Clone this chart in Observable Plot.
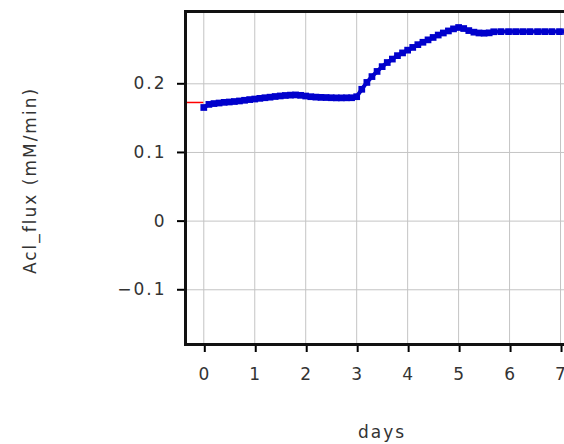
<!DOCTYPE html>
<html>
<head>
<meta charset="utf-8">
<script src="https://cdn.jsdelivr.net/npm/d3@7"></script>
<script src="https://cdn.jsdelivr.net/npm/@observablehq/plot@0.6"></script>
<style>
  html, body { margin: 0; padding: 0; background: #fff; }
  #chart svg { display: block; }
</style>
</head>
<body>
<div id="chart"></div>
<script>
// ---- data ----
const days = [
  0, 0.1, 0.2, 0.3, 0.4, 0.5, 0.6, 0.7, 0.8, 0.9,
  1.0, 1.1, 1.2, 1.3, 1.4, 1.5, 1.6, 1.7, 1.8, 1.9,
  2.0, 2.1, 2.2, 2.3, 2.4, 2.5, 2.6, 2.7, 2.8, 2.9,
  3.0, 3.1, 3.2, 3.3, 3.4, 3.5, 3.6, 3.7, 3.8, 3.9,
  4.0, 4.1, 4.2, 4.3, 4.4, 4.5, 4.6, 4.7, 4.8, 4.9,
  5.0, 5.1, 5.2, 5.3, 5.4, 5.5, 5.6,
  5.69, 5.83, 5.98, 6.12, 6.26, 6.40, 6.55, 6.69, 6.83, 6.98, 7.12
];
const aclFlux = [
  0.1655, 0.1700, 0.1712, 0.1720, 0.1730, 0.1735, 0.1742, 0.1750, 0.1760, 0.1770,
  0.1778, 0.1788, 0.1797, 0.1805, 0.1815, 0.1823, 0.1830, 0.1835, 0.1838, 0.1832,
  0.1822, 0.1812, 0.1806, 0.1802, 0.1800, 0.1797, 0.1795, 0.1795, 0.1796, 0.1797,
  0.1812, 0.1920, 0.2020, 0.2105, 0.2180, 0.2250, 0.2310, 0.2360, 0.2410, 0.2450,
  0.2490, 0.2530, 0.2570, 0.2605, 0.2640, 0.2675, 0.2710, 0.2740, 0.2770, 0.2800,
  0.2820, 0.2805, 0.2775, 0.2752, 0.2740, 0.2737, 0.2742,
  0.2758, 0.2760, 0.2760, 0.2760, 0.2760, 0.2760, 0.2760, 0.2760, 0.2760, 0.2760, 0.2760
];
const initialValue = [0.1728];
const xTicks = [0, 1, 2, 3, 4, 5, 6, 7];
const yTicks = [-0.1, 0, 0.1, 0.2];
const xLabel = "days";
const yLabel = "Acl_flux (mM/min)";

// ---- chart ----
const xDomain = [-0.359, 7.078];
const yDomain = [-0.1797, 0.3053];
const data = days.map((d, i) => ({day: d, flux: aclFlux[i]}));
const blue = "#0000cc";
const textColor = "#333";
const tickFont = {fontSize: 17, fill: textColor};
const yFormat = (d) => d === 0 ? "0" : d3.format(".1f")(d);

const chart = Plot.plot({
  width: 564,
  height: 444,
  marginLeft: 185,
  marginRight: 0,
  marginTop: 11,
  marginBottom: 100,
  style: {fontFamily: "'DejaVu Sans', sans-serif", fontSize: "17px", letterSpacing: "2px", background: "#fff", color: "#000"},
  x: {domain: xDomain, label: null},
  y: {domain: yDomain, label: null},
  marks: [
    Plot.gridX(xTicks, {stroke: "#c4c4c4", strokeOpacity: 1, strokeWidth: 1}),
    Plot.gridY(yTicks, {stroke: "#c4c4c4", strokeOpacity: 1, strokeWidth: 1}),
    Plot.ruleY(initialValue, {x1: xDomain[0], x2: 0, stroke: "#ff0000", strokeWidth: 1.5}),
    Plot.line(data, {x: "day", y: "flux", stroke: blue, strokeWidth: 4}),
    Plot.dot(data, {x: "day", y: "flux", symbol: "square", r: 3.8, fill: blue, stroke: "none"}),
    Plot.axisX(xTicks, {tickSize: 8, tickPadding: 15, strokeWidth: 2, stroke: "#000", ...tickFont, dx: 1, label: null}),
    Plot.axisY(yTicks, {tickSize: 8, tickPadding: 11, strokeWidth: 2, stroke: "#000", ...tickFont, tickFormat: yFormat, label: null}),
    Plot.frame({anchor: "left", stroke: "#111", strokeWidth: 3}),
    Plot.frame({anchor: "top", stroke: "#111", strokeWidth: 3}),
    Plot.frame({anchor: "bottom", stroke: "#111", strokeWidth: 3}),
    Plot.text([xLabel], {frameAnchor: "bottom", textAnchor: "middle", dx: 7, dy: 93, fontSize: 17, fill: textColor}),
    Plot.text([yLabel], {frameAnchor: "left", textAnchor: "middle", rotate: -90, dx: -155, dy: 2.5, fontSize: 17, fill: textColor, style: {letterSpacing: "2.6px"}})
  ]
});
document.getElementById("chart").appendChild(chart);
</script>
</body>
</html>
